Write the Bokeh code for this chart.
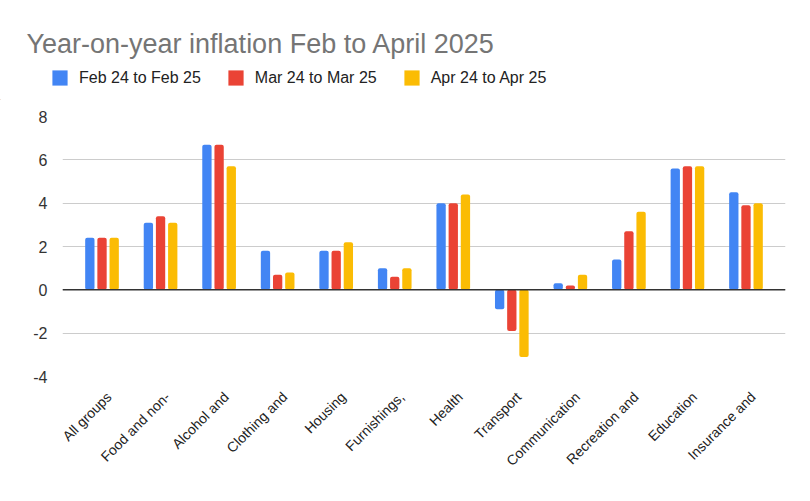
import math
from bokeh.plotting import figure
from bokeh.layouts import column, row
from bokeh.models import (ColumnDataSource, FixedTicker, Legend, LegendItem,
                          Span, Range1d, Label)
from bokeh.transform import dodge
from bokeh.embed import file_html
from bokeh.resources import INLINE

title_text = "Year-on-year inflation Feb to April 2025"
categories = ["All groups", "Food and non-", "Alcohol and", "Clothing and",
              "Housing", "Furnishings,", "Health", "Transport",
              "Communication", "Recreation and", "Education", "Insurance and"]
series_names = ["Feb 24 to Feb 25", "Mar 24 to Mar 25", "Apr 24 to Apr 25"]
feb = [2.4, 3.1, 6.7, 1.8, 1.8, 1.0, 4.0, -0.9, 0.3, 1.4, 5.6, 4.5]
mar = [2.4, 3.4, 6.7, 0.7, 1.8, 0.6, 4.0, -1.9, 0.2, 2.7, 5.7, 3.9]
apr = [2.4, 3.1, 5.7, 0.8, 2.2, 1.0, 4.4, -3.1, 0.7, 3.6, 5.7, 4.0]
y_ticks = [-4, -2, 0, 2, 4, 6, 8]
colors = ["#4285F4", "#EA4335", "#FBBC04"]

idx = list(range(len(categories)))
source = ColumnDataSource(dict(x=idx, feb=feb, mar=mar, apr=apr))

W = 794
HEAD = 100
H = 385
ML, MR, MT, MB = 62, 9, 16, 109

# ---- header (title + legend) ----
head = figure(width=W, height=HEAD, output_backend="svg", toolbar_location=None,
              x_range=Range1d(0, W), y_range=Range1d(0, HEAD),
              x_axis_type=None, y_axis_type=None,
              min_border_left=0, min_border_right=0,
              min_border_top=0, min_border_bottom=0)
head.outline_line_color = None
head.xgrid.visible = False
head.ygrid.visible = False
head.background_fill_color = "white"
head.border_fill_color = "white"

dummies = []
for c in colors:
    dummies.append(head.vbar(x=[-1000], top=[1], width=1, fill_color=c,
                             line_color=None, border_radius=2))

legend = Legend(items=[LegendItem(label=n, renderers=[r])
                       for n, r in zip(series_names, dummies)],
                orientation="horizontal", location=(50, 13),
                padding=0, margin=0, spacing=25, label_standoff=10,
                glyph_width=19, glyph_height=19,
                label_text_font="Liberation Sans", label_text_font_size="16px",
                label_text_color="#222222", border_line_color=None,
                background_fill_alpha=0)
head.add_layout(legend, "center")

head.add_layout(Label(x=26, y=HEAD - 43, text=title_text,
                      text_font="Liberation Sans", text_font_size="27px",
                      text_color="#757575", text_baseline="alphabetic"))

# ---- main chart ----
p = figure(width=W, height=H, output_backend="svg", toolbar_location=None,
           x_range=Range1d(-0.675, len(categories) - 1 + 0.675),
           y_range=Range1d(min(y_ticks), max(y_ticks)),
           min_border_left=ML, min_border_right=MR,
           min_border_top=MT, min_border_bottom=MB)
p.outline_line_color = None
p.background_fill_color = "white"
p.border_fill_color = "white"

bw = 0.159
off = 0.208
for field, c, o in zip(["feb", "mar", "apr"], colors, [-off, 0, off]):
    p.vbar(x=dodge("x", o, range=p.x_range), top=field, bottom=0,
           width=bw, source=source, fill_color=c, line_color=None,
           border_radius=2)

p.add_layout(Span(location=0, dimension="width", line_color="#333333",
                  line_width=1.5))

p.xgrid.grid_line_color = None
p.ygrid.grid_line_color = "#cccccc"
p.ygrid.grid_line_width = 1

p.yaxis.ticker = FixedTicker(ticks=y_ticks)
p.yaxis.major_label_overrides = {t: str(t) for t in y_ticks}
p.yaxis.axis_line_color = None
p.yaxis.major_tick_line_color = None
p.yaxis.minor_tick_line_color = None
p.yaxis.major_label_text_font = "Liberation Sans"
p.yaxis.major_label_text_font_size = "16px"
p.yaxis.major_label_text_color = "#333333"
p.yaxis.major_label_standoff = 9

# category labels: anchor slightly right of the group centre, as in the reference
label_shift = 0.12
x_label_pos = [i + label_shift for i in idx]
p.xaxis.ticker = FixedTicker(ticks=x_label_pos)
p.xaxis.major_label_overrides = {t: c for t, c in zip(x_label_pos, categories)}
p.xaxis.major_label_orientation = math.pi / 4
p.xaxis.axis_line_color = None
p.xaxis.major_tick_line_color = None
p.xaxis.minor_tick_line_color = None
p.xaxis.major_label_text_font = "Liberation Sans"
p.xaxis.major_label_text_font_size = "14px"
p.xaxis.major_label_text_color = "#222222"
p.xaxis.major_label_standoff = 12

layout = column(row(head), row(p), spacing=0)
open("out.html", "w").write(file_html(layout, INLINE))
